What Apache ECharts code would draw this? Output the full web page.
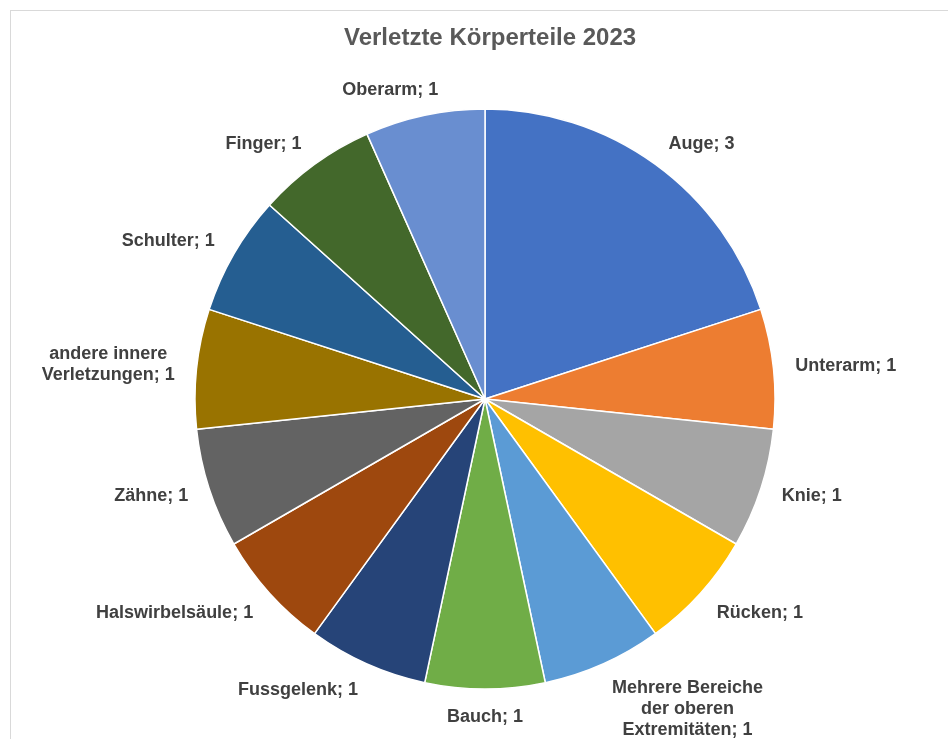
<!DOCTYPE html>
<html>
<head>
<meta charset="utf-8">
<script src="https://cdn.jsdelivr.net/npm/echarts@6/dist/echarts.min.js"></script>
<style>
  html, body { margin: 0; padding: 0; background: #fff; }
  #frame { position: absolute; left: 10px; top: 10px; width: 1000px; height: 800px;
           border-top: 1px solid #d9d9d9; border-left: 1px solid #d9d9d9; }
  #chart { position: absolute; left: 0; top: 0; width: 948px; height: 739px; }
</style>
</head>
<body>
<div id="frame"></div>
<div id="chart"></div>
<script>
const chartTitle = 'Verletzte Körperteile 2023';
const categories = ['Auge', 'Unterarm', 'Knie', 'Rücken', 'Mehrere Bereiche\nder oberen\nExtremitäten',
  'Bauch', 'Fussgelenk', 'Halswirbelsäule', 'Zähne', 'andere innere\nVerletzungen',
  'Schulter', 'Finger', 'Oberarm'];
const values = [3, 1, 1, 1, 1, 1, 1, 1, 1, 1, 1, 1, 1];
const colors = ['#4472C4', '#ED7D31', '#A5A5A5', '#FFC000', '#5B9BD5', '#70AD47', '#264478',
  '#9E480E', '#636363', '#997300', '#255E91', '#43682B', '#698ED0'];

const CX = 485, CY = 399, R = 290, GX = 22, GY = 15;
const total = values.reduce((a, b) => a + b, 0);
const midAngles = [];
{
  let acc = 0;
  for (const v of values) { midAngles.push((acc + v / 2) / total * 2 * Math.PI); acc += v; }
}

const chart = echarts.init(document.getElementById('chart'));
chart.setOption({
  animation: false,
  title: {
    text: chartTitle, left: 339, top: 21,
    textStyle: { fontFamily: 'Liberation Sans', fontWeight: 'bold', fontSize: 24, color: '#595959' }
  },
  series: [{
    type: 'pie',
    center: [CX, CY],
    radius: R,
    startAngle: 90,
    clockwise: true,
    data: categories.map((c, i) => ({ name: c, value: values[i], itemStyle: { color: colors[i] } })),
    itemStyle: { borderColor: '#ffffff', borderWidth: 1.5 },
    label: {
      show: true, position: 'outside',
      formatter: p => p.name + '; ' + p.value,
      fontFamily: 'Liberation Sans', fontWeight: 'bold', fontSize: 18, color: '#404040',
      lineHeight: 21, align: 'center'
    },
    labelLine: { show: false },
    avoidLabelOverlap: false,
    labelLayout: function (p) {
      const a = midAngles[p.dataIndex];
      const dx = Math.sin(a), dy = -Math.cos(a);
      const w = p.labelRect.width, h = p.labelRect.height;
      const k = Math.max(-1, Math.min(1, dx * 3));
      return {
        x: CX + (R + GX) * dx + k * w / 2,
        y: CY + (R + GY) * dy + dy * h / 2 + (dy > 0.5 ? 3 : 0),
        align: 'center', verticalAlign: 'middle'
      };
    }
  }]
});
</script>
</body>
</html>
